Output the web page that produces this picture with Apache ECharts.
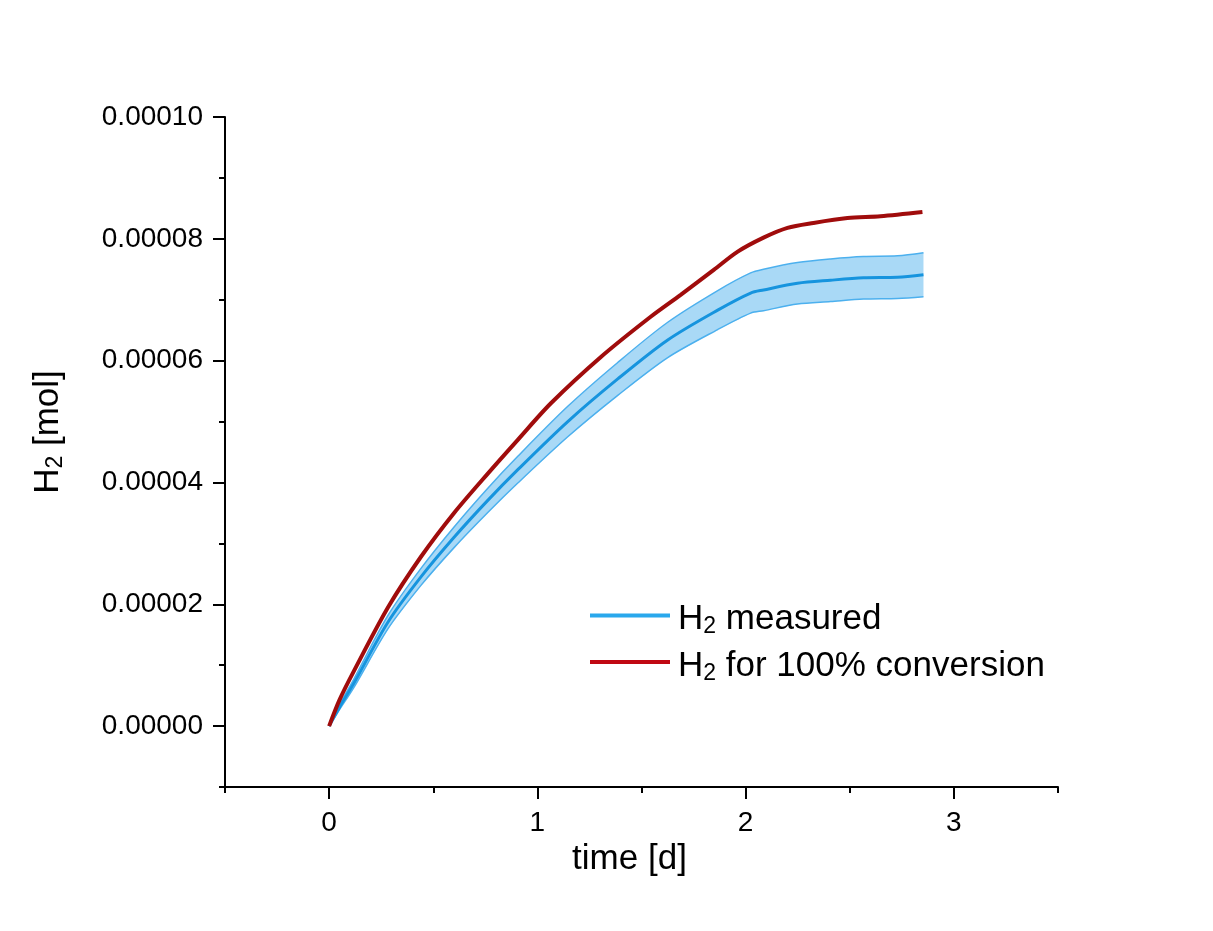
<!DOCTYPE html>
<html>
<head>
<meta charset="utf-8">
<script src="https://cdn.jsdelivr.net/npm/echarts@6/dist/echarts.min.js"></script>
<style>
html,body{margin:0;padding:0;background:#fff;}
#chart{width:1213px;height:931px;}
</style>
</head>
<body>
<div id="chart"></div>
<script>
// ---- data ----
const timeConversion = [0, 0.05, 0.12, 0.283, 0.441, 0.6, 0.763, 0.906, 1.065, 1.305, 1.544, 1.688, 1.847, 1.962, 2.086, 2.201, 2.326, 2.489, 2.647, 2.849];
const h2Conversion = [0, 4.3e-6, 9.1e-6, 19.5e-6, 27.8e-6, 35.0e-6, 41.5e-6, 47.0e-6, 53.0e-6, 60.6e-6, 67.2e-6, 70.8e-6, 74.9e-6, 77.9e-6, 80.2e-6, 81.8e-6, 82.6e-6, 83.4e-6, 83.7e-6, 84.4e-6];

const timeMeasured = [0, 0.05, 0.12, 0.283, 0.441, 0.6, 0.763, 0.906, 1.146, 1.386, 1.626, 1.866, 2.024, 2.086, 2.249, 2.408, 2.566, 2.729, 2.854];
const h2Measured = [0, 3.1e-6, 7.1e-6, 17.1e-6, 24.5e-6, 31.0e-6, 37.1e-6, 42.1e-6, 50.0e-6, 57.0e-6, 63.4e-6, 68.3e-6, 71.1e-6, 71.6e-6, 72.7e-6, 73.2e-6, 73.6e-6, 73.7e-6, 74.1e-6];
const h2MeasuredUpper = [0, 3.5e-6, 7.8e-6, 18.2e-6, 25.9e-6, 32.7e-6, 39.1e-6, 44.3e-6, 52.5e-6, 59.7e-6, 66.3e-6, 71.5e-6, 74.4e-6, 75.0e-6, 76.1e-6, 76.7e-6, 77.1e-6, 77.2e-6, 77.7e-6];
const h2MeasuredLower = [0, 2.7e-6, 6.4e-6, 16.0e-6, 23.1e-6, 29.3e-6, 35.1e-6, 39.9e-6, 47.5e-6, 54.3e-6, 60.5e-6, 65.1e-6, 67.8e-6, 68.2e-6, 69.3e-6, 69.7e-6, 70.1e-6, 70.2e-6, 70.5e-6];

const xMajorTicks = [0, 1, 2, 3];
const xMinorTicks = [-0.5, 0.5, 1.5, 2.5, 3.5];
const yMajorTicks = [0, 0.00002, 0.00004, 0.00006, 0.00008, 0.0001];
const yMinorTicks = [-0.00001, 0.00001, 0.00003, 0.00005, 0.00007, 0.00009];

const seriesNames = ['H2 measured', 'H2 for 100% conversion'];
const legendLabels = {
  'H2 measured': '{n|H}{s|2}{n| measured}',
  'H2 for 100% conversion': '{n|H}{s|2}{n| for 100% conversion}'
};

// ---- build ----
const pair = (xs, ys) => xs.map((x, i) => [x, ys[i]]);
const FONT = "'Liberation Sans', Arial, sans-serif";
const BLUE = '#1694de';
const RED = '#a00c0c';
const EDGE = '#4cb0ee';
const richStyles = {
  n: {fontSize: 35, lineHeight: 38, fontFamily: FONT, color: '#000'},
  s: {fontSize: 23, lineHeight: 23, verticalAlign: 'bottom', fontFamily: FONT, color: '#000'}
};

const chart = echarts.init(document.getElementById('chart'), null, {renderer: 'canvas'});
const axisLineStyle = {color: '#000', width: 2};

function renderBand(params, api) {
  if (params.dataIndex !== 0) return null;
  const pts = [];
  for (let i = 0; i < timeMeasured.length; i++) pts.push(api.coord([timeMeasured[i], h2MeasuredUpper[i]]));
  for (let i = timeMeasured.length - 1; i >= 0; i--) pts.push(api.coord([timeMeasured[i], h2MeasuredLower[i]]));
  return {
    type: 'polygon',
    shape: {points: pts},
    style: {fill: '#a9d9f6', stroke: null},
    silent: true
  };
}

chart.setOption({
  animation: false,
  backgroundColor: '#ffffff',
  grid: {left: 225, right: 155, top: 117, bottom: 144, containLabel: false},
  xAxis: [
    {
      type: 'value', min: -0.5, max: 3.5, interval: 0.5,
      position: 'bottom',
      axisLine: {show: true, onZero: false, lineStyle: axisLineStyle},
      axisTick: {show: true, length: 12, customValues: xMajorTicks, lineStyle: axisLineStyle},
      axisLabel: {customValues: xMajorTicks, margin: 22, fontSize: 28, color: '#000', fontFamily: FONT},
      splitLine: {show: false},
      name: 'time [d]', nameLocation: 'middle', nameGap: 49,
      nameTextStyle: {fontSize: 35, color: '#000', fontFamily: FONT, padding: [0, 24, 0, 0]}
    },
    {
      type: 'value', min: -0.5, max: 3.5, interval: 0.5,
      position: 'bottom',
      axisLine: {show: false, onZero: false},
      axisTick: {show: true, length: 6, customValues: xMinorTicks, lineStyle: axisLineStyle},
      axisLabel: {show: false},
      splitLine: {show: false}
    }
  ],
  yAxis: [
    {
      type: 'value', min: -0.00001, max: 0.0001, interval: 0.00001,
      position: 'left',
      axisLine: {show: true, onZero: false, lineStyle: axisLineStyle},
      axisTick: {show: true, length: 12, customValues: yMajorTicks, lineStyle: axisLineStyle},
      axisLabel: {
        customValues: yMajorTicks, margin: 22, fontSize: 28, color: '#000', fontFamily: FONT,
        formatter: v => v.toFixed(5)
      },
      splitLine: {show: false},
      name: '{n|H}{s|2}{n| [mol]}', nameLocation: 'middle', nameRotate: 90, nameGap: 158,
      nameTextStyle: {
        color: '#000', fontFamily: FONT, fontSize: 35,
        padding: [0, 0, 0, 40],
        rich: richStyles
      }
    },
    {
      type: 'value', min: -0.00001, max: 0.0001, interval: 0.00001,
      position: 'left',
      axisLine: {show: false, onZero: false},
      axisTick: {show: true, length: 6, customValues: yMinorTicks, lineStyle: axisLineStyle},
      axisLabel: {show: false},
      splitLine: {show: false}
    }
  ],
  legend: {
    orient: 'vertical', left: 585, top: 597,
    icon: 'rect', itemWidth: 80, itemHeight: 4, itemGap: 10,
    data: [
      {name: seriesNames[0], itemStyle: {color: '#29a8ec'}},
      {name: seriesNames[1], itemStyle: {color: '#c00812'}}
    ],
    formatter: name => legendLabels[name],
    textStyle: {
      color: '#000', fontFamily: FONT, fontSize: 35, padding: [8, 0, 0, 3],
      rich: richStyles
    }
  },
  series: [
    {
      name: 'band', type: 'custom', renderItem: renderBand, silent: true,
      data: [[0, 0]], z: 1, clip: true
    },
    {
      name: 'bandUpper', type: 'line', smooth: 0.3, symbol: 'none', silent: true,
      data: pair(timeMeasured, h2MeasuredUpper),
      lineStyle: {color: EDGE, width: 1.5}, z: 2
    },
    {
      name: 'bandLower', type: 'line', smooth: 0.3, symbol: 'none', silent: true,
      data: pair(timeMeasured, h2MeasuredLower),
      lineStyle: {color: EDGE, width: 1.5}, z: 2
    },
    {
      name: seriesNames[0], type: 'line', smooth: 0.3, symbol: 'none',
      data: pair(timeMeasured, h2Measured),
      itemStyle: {color: BLUE}, lineStyle: {color: BLUE, width: 3}, z: 3
    },
    {
      name: seriesNames[1], type: 'line', smooth: 0.3, symbol: 'none',
      data: pair(timeConversion, h2Conversion),
      itemStyle: {color: RED}, lineStyle: {color: RED, width: 4}, z: 4
    }
  ]
});
</script>
</body>
</html>
